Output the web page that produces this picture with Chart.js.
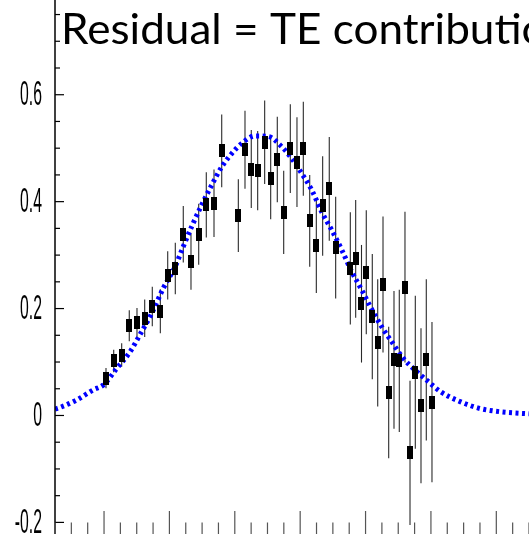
<!DOCTYPE html>
<html>
<head>
<meta charset="utf-8">
<script src="https://cdn.jsdelivr.net/npm/chart.js@4.4.0/dist/chart.umd.min.js"></script>
<style>
  html, body { margin: 0; padding: 0; background: #fff; }
  #chart { display: block; }
</style>
</head>
<body>
<canvas id="chart" width="529" height="534"></canvas>
<script>
// Residual data points (x, value, symmetric error)
const dataX = [1.030, 1.148, 1.270, 1.386, 1.504, 1.622, 1.738, 1.861, 1.974, 2.090,
               2.212, 2.330, 2.448, 2.564, 2.682, 2.800, 3.054, 3.156, 3.252, 3.350,
               3.457, 3.549, 3.650, 3.748, 3.849, 3.951, 4.048, 4.146, 4.247, 4.344,
               4.445, 4.543, 4.767, 4.849, 4.938, 5.011, 5.103, 5.186, 5.267, 5.354,
               5.435, 5.516, 5.603, 5.680, 5.761, 5.848, 5.929, 6.016];
const dataY = [0.070, 0.102, 0.113, 0.168, 0.173, 0.182, 0.204, 0.195, 0.262, 0.275,
               0.339, 0.288, 0.339, 0.394, 0.397, 0.495, 0.374, 0.497, 0.461, 0.458,
               0.511, 0.444, 0.479, 0.380, 0.499, 0.474, 0.499, 0.364, 0.318, 0.392,
               0.424, 0.314, 0.275, 0.293, 0.209, 0.268, 0.185, 0.136, 0.245, 0.043,
               0.104, 0.102, 0.240, -0.070, 0.081, 0.018, 0.104, 0.025];
const dataErr = [0.019, 0.021, 0.022, 0.029, 0.028, 0.035, 0.037, 0.041, 0.045, 0.048,
                 0.053, 0.053, 0.057, 0.061, 0.063, 0.068, 0.068, 0.073, 0.073, 0.074,
                 0.078, 0.077, 0.080, 0.078, 0.083, 0.084, 0.088, 0.086, 0.089, 0.093,
                 0.097, 0.095, 0.105, 0.110, 0.110, 0.116, 0.117, 0.119, 0.127, 0.123,
                 0.129, 0.133, 0.141, 0.135, 0.143, 0.145, 0.151, 0.150];

// Fitted TE curve
const fitX = [0.25, 0.326, 0.582, 0.836, 0.989, 1.194, 1.397, 1.576, 1.729, 1.906,
              2.085, 2.212, 2.350, 2.494, 2.647, 2.800, 2.953, 3.106, 3.309, 3.512,
              3.691, 3.870, 4.023, 4.176, 4.329, 4.482, 4.635, 4.788, 4.941, 5.083,
              5.247, 5.400, 5.577, 5.756, 5.935, 6.154, 6.445, 6.750, 7.056, 7.5];
const fitY = [0.012, 0.015, 0.029, 0.048, 0.057, 0.088, 0.119, 0.157, 0.191, 0.238,
              0.278, 0.316, 0.356, 0.394, 0.431, 0.465, 0.490, 0.509, 0.523, 0.522,
              0.506, 0.481, 0.453, 0.422, 0.381, 0.347, 0.310, 0.269, 0.235, 0.201,
              0.166, 0.138, 0.107, 0.085, 0.066, 0.044, 0.026, 0.013, 0.007, 0.003];

// Axis ticks
const yTickValues = [-0.2, 0, 0.2, 0.4, 0.6, 0.8];
const yTickLabels = ['-0.2', '0', '0.2', '0.4', '0.6', '0.8'];
const xMajorTicks = [1, 2, 3, 4, 5, 6, 7];

const titleText = 'Residual = TE contribution';

// Black bar marker used as point style
function makeMarker() {
    const c = document.createElement('canvas');
    c.width = 6;
    c.height = 13;
    const g = c.getContext('2d');
    g.fillStyle = '#000';
    g.fillRect(0, 0, 6, 13);
    return c;
}

const axesPlugin = {
    id: 'axesPlugin',
    beforeDatasetsDraw(chart) {
        // error bars under markers
        const ctx = chart.ctx;
        const xs = chart.scales.x, ys = chart.scales.y;
        ctx.save();
        ctx.strokeStyle = '#2a2a2a';
        ctx.lineWidth = 1.1;
        dataX.forEach((x, i) => {
            const px = xs.getPixelForValue(x);
            ctx.beginPath();
            ctx.moveTo(px, ys.getPixelForValue(dataY[i] + dataErr[i]));
            ctx.lineTo(px, ys.getPixelForValue(dataY[i] - dataErr[i]));
            ctx.stroke();
        });
        ctx.restore();
    },
    afterDraw(chart) {
        const ctx = chart.ctx;
        const xs = chart.scales.x, ys = chart.scales.y;
        const area = chart.chartArea;
        const H = chart.height;
        ctx.save();

        // y axis line
        ctx.strokeStyle = '#000';
        ctx.lineWidth = 1.5;
        ctx.beginPath();
        ctx.moveTo(area.left, 0);
        ctx.lineTo(area.left, H);
        ctx.stroke();

        // y ticks: major every 0.2, minor every 0.05
        ctx.lineWidth = 1.2;
        for (let k = -5; k <= 16; k++) {
            const v = k * 0.05;
            const py = ys.getPixelForValue(v);
            const len = (k % 4 === 0) ? 9 : 5;
            ctx.beginPath();
            ctx.moveTo(area.left, py);
            ctx.lineTo(area.left + len, py);
            ctx.stroke();
        }

        // y labels, tall narrow digits
        ctx.fillStyle = '#000';
        ctx.font = '35px "Liberation Sans"';
        ctx.textAlign = 'right';
        ctx.textBaseline = 'middle';
        yTickValues.forEach((v, i) => {
            const py = ys.getPixelForValue(v);
            ctx.save();
            ctx.translate(42, py + 1);
            ctx.scale(0.45, 1);
            ctx.fillText(yTickLabels[i], 0, 0);
            ctx.restore();
        });

        // x ticks from the bottom edge, major every 1, minor every 0.25
        ctx.strokeStyle = '#555';
        ctx.lineWidth = 1.2;
        for (let k = 1; k <= 30; k++) {
            const v = k * 0.25;
            const px = xs.getPixelForValue(v);
            const major = xMajorTicks.includes(v);
            ctx.beginPath();
            ctx.moveTo(px, H);
            ctx.lineTo(px, H - (major ? 23 : 11.5));
            ctx.stroke();
        }

        // title
        ctx.fillStyle = '#000';
        ctx.font = '42px Lato';
        ctx.textAlign = 'left';
        ctx.textBaseline = 'alphabetic';
        ctx.translate(61, 44);
        ctx.scale(1.05, 1);
        ctx.fillText(titleText, 0, 0);
        ctx.restore();
    }
};

const ctx = document.getElementById('chart');
new Chart(ctx, {
    type: 'scatter',
    data: {
        datasets: [
            {
                label: 'Residual',
                data: dataX.map((x, i) => ({ x: x, y: dataY[i] })),
                pointStyle: makeMarker(),
                pointRadius: 3,
                showLine: false,
                order: 0
            },
            {
                label: 'TE fit',
                data: fitX.map((x, i) => ({ x: x, y: fitY[i] })),
                showLine: true,
                borderColor: '#0000ff',
                borderWidth: 5,
                borderDash: [3, 3.5],
                pointRadius: 0,
                cubicInterpolationMode: 'monotone',
                fill: false,
                order: 1
            }
        ]
    },
    options: {
        responsive: false,
        animation: false,
        layout: { autoPadding: false, padding: { left: 55, right: 0, top: 0, bottom: 0 } },
        plugins: {
            legend: { display: false },
            tooltip: { enabled: false },
            title: { display: false }
        },
        scales: {
            x: { type: 'linear', display: false, min: 0.25, max: 7.5 },
            y: { type: 'linear', display: false, min: -0.2217, max: 0.7772 }
        }
    },
    plugins: [axesPlugin]
});
</script>
</body>
</html>
